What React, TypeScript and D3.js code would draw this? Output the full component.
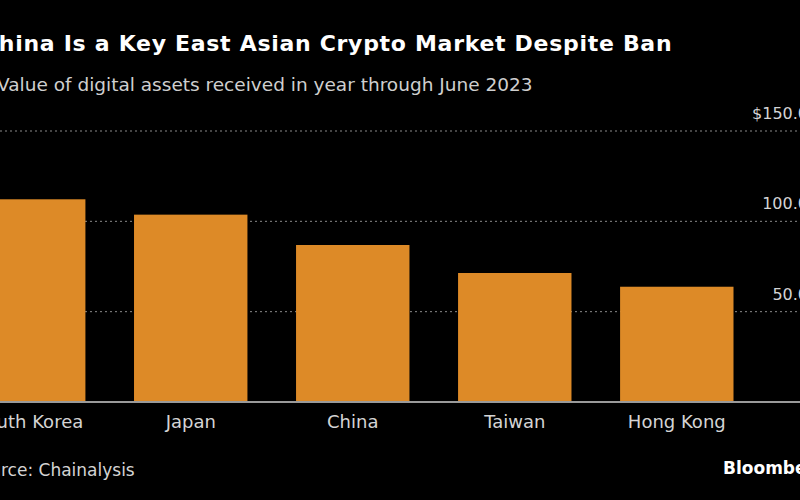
import React from "react";
import * as d3 from "d3";

const categories = ["South Korea", "Japan", "China", "Taiwan", "Hong Kong"];
const values = [112.2, 103.7, 86.9, 71.4, 63.8];
const yTicks = [50, 100, 150];
const tickLabels = ["50.0", "100.0", "$150.0"];

const W = 800;
const H = 500;
const FONT = "'DejaVu Sans', 'Open Sans', sans-serif";

export default function App() {
  const x = d3
    .scaleBand<string>()
    .domain(categories)
    .range([-28, 733.5])
    .paddingInner(0.3)
    .paddingOuter(0);
  const y = d3.scaleLinear().domain([0, 150]).range([402, 131]);

  return (
    <svg
      width={W}
      height={H}
      style={{ position: "fixed", left: 0, top: 0, background: "#000", display: "block" }}
      fontFamily={FONT}
    >
      <rect x={0} y={0} width={W} height={H} fill="#000" />
      <text x={-18} y={51} fill="#fff" fontWeight={700} fontSize={22} letterSpacing={0.7}>
        China Is a Key East Asian Crypto Market Despite Ban
      </text>
      <text x={-3} y={91} fill="#cfcfcf" fontSize={18.5}>
        Value of digital assets received in year through June 2023
      </text>

      {yTicks.map((t, i) => (
        <g key={t}>
          <line
            x1={0}
            x2={W}
            y1={y(t)}
            y2={y(t)}
            stroke="#8a8a8a"
            strokeWidth={1}
            strokeDasharray="2,3"
          />
          <text
            x={808}
            y={y(t) - 12}
            fill="#d4d4d4"
            fontSize={16}
            textAnchor="end"
          >
            {tickLabels[i]}
          </text>
        </g>
      ))}

      {categories.map((c, i) => (
        <rect
          key={c}
          x={x(c)}
          y={y(values[i])}
          width={x.bandwidth()}
          height={y(0) - y(values[i])}
          fill="#dd8a27"
        />
      ))}

      <line x1={0} x2={W} y1={y(0)} y2={y(0)} stroke="#9a9a9a" strokeWidth={2} />

      {categories.map((c) => (
        <text
          key={c}
          x={(x(c) as number) + x.bandwidth() / 2}
          y={428}
          fill="#d4d4d4"
          fontSize={18}
          textAnchor="middle"
        >
          {c}
        </text>
      ))}

      <text x={-31} y={476} fill="#d4d4d4" fontSize={17}>
        Source: Chainalysis
      </text>
      <text x={723} y={474} fill="#fff" fontWeight={700} fontSize={17}>
        Bloomberg
      </text>
    </svg>
  );
}
